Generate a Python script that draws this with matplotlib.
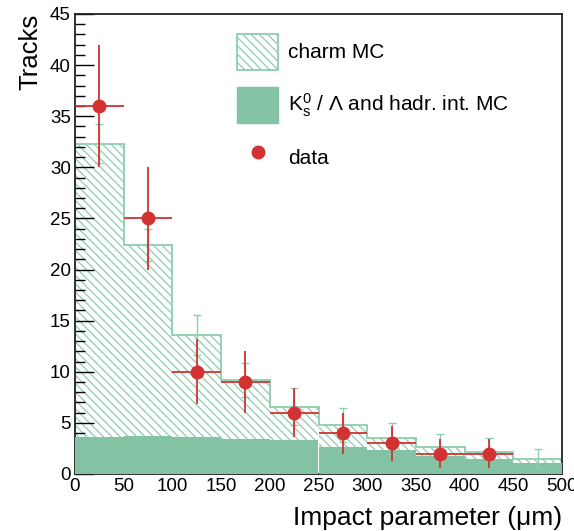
import numpy as np
import matplotlib
matplotlib.use("Agg")
import matplotlib.pyplot as plt
from matplotlib.patches import Patch
from matplotlib.lines import Line2D
from matplotlib.ticker import MultipleLocator

plt.rcParams['font.family'] = ['Liberation Sans', 'DejaVu Sans']
plt.rcParams['mathtext.fontset'] = 'custom'
plt.rcParams['mathtext.rm'] = 'Liberation Sans'
plt.rcParams['mathtext.it'] = 'Liberation Sans:italic'
plt.rcParams['hatch.linewidth'] = 0.9
plt.rcParams['hatch.color'] = '#8fcdb0'

# bins of 50 um
bin_edges = [0, 50, 100, 150, 200, 250, 300, 350, 400, 450, 500]
# stacked MC (charm + K0s/Lambda), K0s/Lambda part, MC error
mc_total = [32.3, 22.4, 13.6, 9.2, 6.6, 4.8, 3.5, 2.6, 2.2, 1.5]
k0_mc = [3.6, 3.7, 3.6, 3.4, 3.3, 2.6, 2.3, 1.8, 1.5, 1.1]
mc_err = [1.9, 1.6, 2.0, 1.7, 1.8, 1.7, 1.5, 1.3, 1.3, 0.95]
# data (first 9 bins)
data_y = [36, 25, 10, 9, 6, 4, 3, 2, 2]
data_err = [6.0, 5.0, 3.2, 3.0, 2.4, 2.0, 1.7, 1.4, 1.4]

green = '#84c2a4'
hatch_green = '#8fcdb0'
red = '#d23232'

edges = np.array(bin_edges, dtype=float)
centers = (edges[:-1] + edges[1:]) / 2
widths = np.diff(edges)

fig = plt.figure(figsize=(5.74, 5.31), dpi=100)
ax = fig.add_axes([75/574, 1-474/531, 487/574, 460/531])

# charm MC stacked on top (hatched), then solid K0s/Lambda part
ax.bar(centers, mc_total, width=widths, color='white', edgecolor=hatch_green,
       hatch='\\\\\\\\', linewidth=0, zorder=1)
ax.stairs(mc_total, edges, color=hatch_green, linewidth=1.3, zorder=2)
ax.bar(centers, k0_mc, width=widths, color=green, linewidth=0, zorder=3)

ax.errorbar(centers, mc_total, yerr=mc_err, fmt='none', ecolor=hatch_green,
            elinewidth=1.0, capsize=3, capthick=1.0, zorder=4)

n = len(data_y)
ax.errorbar(centers[:n], data_y, xerr=widths[:n]/2, yerr=data_err, fmt='o',
            color=red, ms=9, elinewidth=1.3, zorder=5)

ax.set_xlim(0, 500)
ax.set_ylim(0, 45)
ax.xaxis.set_major_locator(MultipleLocator(50))
ax.yaxis.set_major_locator(MultipleLocator(5))
ax.yaxis.set_minor_locator(MultipleLocator(1))
ax.tick_params(axis='y', which='major', direction='in', length=14, width=1, labelsize=13.5, pad=3)
ax.tick_params(axis='y', which='minor', direction='in', length=7, width=1)
ax.tick_params(axis='x', which='both', length=0, labelsize=13.5, pad=3)
for s in ax.spines.values():
    s.set_linewidth(1.3)
    s.set_color('#222222')

ax.set_ylabel('Tracks', fontsize=18.5, loc='top')
ax.yaxis.set_label_coords(-0.068, 1.0)
ax.set_xlabel('Impact parameter (\u03bcm)', fontsize=19, loc='right')
ax.xaxis.set_label_coords(1.0, -0.07)

handles = [
    Patch(facecolor='white', edgecolor=hatch_green, hatch='\\\\\\\\', linewidth=1.3),
    Patch(facecolor=green, edgecolor=green),
    Line2D([], [], marker='o', color=red, ms=9, linestyle='none'),
]
labels = ['charm MC', r'K$_{\rm s}^{0}$ / $\Lambda$ and hadr. int. MC', 'data']
ax.legend(handles, labels, loc='upper left', bbox_to_anchor=(237/574, 1-34/531),
          bbox_transform=fig.transFigure, frameon=False, fontsize=15,
          handlelength=1.97, handleheight=2.285, labelspacing=0.8,
          handletextpad=0.48, borderpad=0, borderaxespad=0)

fig.savefig('out.png', dpi=100)
